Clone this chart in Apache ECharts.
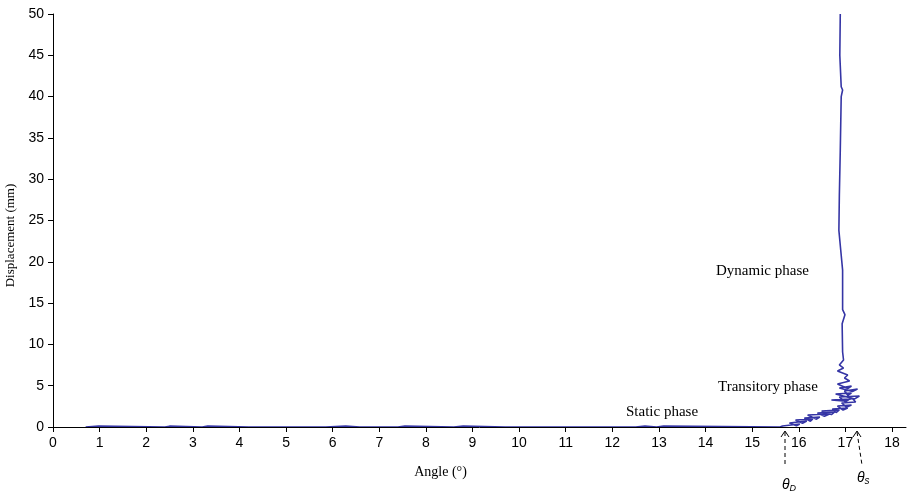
<!DOCTYPE html>
<html>
<head>
<meta charset="utf-8">
<script src="https://cdn.jsdelivr.net/npm/echarts@6/dist/echarts.min.js"></script>
<style>html,body{margin:0;padding:0;background:#fff}#chart{width:913px;height:494px}</style>
</head>
<body>
<div id="chart"></div>
<script>
// x tick labels (degrees)
var angleTicks = [0, 1, 2, 3, 4, 5, 6, 7, 8, 9, 10, 11, 12, 13, 14, 15, 16, 17, 18];

// static phase: displacement stays ~0 with tiny blips
var staticPhase = [
  [0.7,0],[0.72,0.12],[0.98,0.12],[1.0,0],[2.4,0],[2.42,0.1],[2.5,0.1],[2.52,0],
  [3.2,0],[3.22,0.12],[3.32,0.12],[3.34,0],[4.2,0],[4.22,0.15],[4.25,0],
  [5.85,0],[5.87,0.12],[6.28,0.12],[6.3,0],[6.58,0],[6.6,0.1],[6.62,0],
  [7.0,0],[7.03,0.2],[7.06,0],[7.4,0],[7.42,0.12],[7.55,0.12],[7.57,0],
  [8.6,0],[8.62,0.12],[8.8,0.12],[8.82,0],[9.7,0],[9.72,0.15],[9.75,0],
  [11.6,0],[11.62,0.1],[11.65,0],[12.5,0],[12.52,0.12],[12.7,0.12],[12.72,0],
  [12.95,0],[12.97,0.12],[13.1,0.12],[13.12,0],[15.6,0]
];

// transitory phase: scribbly climb between ~15.6 and ~17.3 deg
var transitoryPhase = [
  [15.65,0.12],[16.02,0.36],[15.95,0.15],[15.80,0.48],[16.17,0.73],[16.08,0.45],
  [15.93,0.85],[16.30,0.97],[16.25,0.70],[16.12,1.09],[16.45,1.21],[16.38,0.95],
  [16.19,1.45],[16.66,1.57],[16.55,1.30],[16.40,1.69],[16.77,1.82],[16.70,1.50],
  [16.49,1.94],[16.87,2.06],[16.80,1.75],[16.72,2.18],[17.05,2.30],[16.95,2.05],
  [16.83,2.54],[17.13,2.66],[17.02,2.40],[16.92,2.91],[17.22,3.03],[17.15,3.45],
  [16.95,3.15],[16.70,3.27],[17.09,3.39],[17.00,3.05],[16.87,3.63],[17.30,3.75],
  [17.20,3.40],[16.79,4.00],[17.13,4.12],[17.05,3.85],[16.98,4.36],[17.26,4.60],
  [17.15,4.30],[16.87,4.72],[17.13,4.96],[17.05,4.65],[16.83,5.21],[17.09,5.57],
  [16.98,5.93],[17.05,6.30],[16.83,6.78],[16.96,7.14],[16.87,7.51]
];

// dynamic phase: near-vertical rise at ~16.9 deg
var dynamicPhase = [
  [16.96,8.11],[16.94,9.08],[16.93,12.5],[16.99,13.6],[16.94,14.2],
  [16.94,19.0],[16.90,21.4],[16.86,23.8],[16.87,28.0],[16.89,33.5],[16.91,40.0],
  [16.94,40.8],[16.91,41.2],[16.88,45.0],[16.89,50.0]
];

var curve = staticPhase.concat(transitoryPhase, dynamicPhase);

var chart = echarts.init(document.getElementById('chart'));
var option = {
  backgroundColor: '#fff',
  animation: false,
  grid: { left: 53, right: 7, top: 14, bottom: 67, outerBoundsMode: 'none' },
  xAxis: {
    type: 'value',
    min: 0,
    max: 18.3,
    z: 5,
    name: 'Angle (°)',
    nameLocation: 'middle',
    nameGap: 38,
    nameTextStyle: { fontFamily: 'Liberation Serif', fontSize: 14, color: '#000', padding: [0, 78, 0, 0] },
    axisLine: { lineStyle: { color: '#000', width: 1 } },
    axisTick: { show: true, length: 5, lineStyle: { color: '#000' }, customValues: angleTicks },
    axisLabel: { customValues: angleTicks, color: '#000', fontFamily: 'Liberation Sans', fontSize: 14, margin: 9 },
    splitLine: { show: false }
  },
  yAxis: {
    type: 'value',
    min: 0,
    max: 50,
    interval: 5,
    name: 'Displacement (mm)',
    nameLocation: 'middle',
    nameGap: 32,
    nameTextStyle: { fontFamily: 'Liberation Serif', fontSize: 13, color: '#000', padding: [0, 30, 0, 0] },
    axisLine: { show: true, lineStyle: { color: '#000', width: 1 } },
    axisTick: { show: true, length: 5, lineStyle: { color: '#000' } },
    axisLabel: { color: '#000', fontFamily: 'Liberation Sans', fontSize: 14, margin: 9 },
    splitLine: { show: false }
  },
  series: [{
    type: 'line',
    data: curve,
    showSymbol: false,
    z: 2,
    lineStyle: { color: '#3535a5', width: 1.6 }
  }],
  graphic: [
    { type: 'text', left: 716, top: 264, style: { text: 'Dynamic phase', font: '15px "Liberation Serif"', fill: '#000' } },
    { type: 'text', left: 718, top: 380, style: { text: 'Transitory phase', font: '15px "Liberation Serif"', fill: '#000' } },
    { type: 'text', left: 626, top: 405, style: { text: 'Static phase', font: '15px "Liberation Serif"', fill: '#000' } },
    // theta_D arrow
    { type: 'line', shape: { x1: 785, y1: 432, x2: 785, y2: 465 }, style: { stroke: '#000', lineWidth: 1, lineDash: [4, 3] } },
    { type: 'polyline', shape: { points: [[781, 437], [785, 431], [789, 437]] }, style: { stroke: '#000', lineWidth: 1, fill: null } },
    // theta_s arrow
    { type: 'line', shape: { x1: 857, y1: 432, x2: 862, y2: 465 }, style: { stroke: '#000', lineWidth: 1, lineDash: [4, 3] } },
    { type: 'polyline', shape: { points: [[853, 437], [857, 431], [861, 437]] }, style: { stroke: '#000', lineWidth: 1, fill: null } },
    { type: 'text', left: 782, top: 478, style: {
        text: '{t|θ}{s|D}',
        rich: { t: { font: 'italic 14px "Liberation Sans"', fill: '#000' }, s: { font: 'italic 9px "Liberation Sans"', fill: '#000', padding: [7, 0, 0, 0] } }
    } },
    { type: 'text', left: 857, top: 471, style: {
        text: '{t|θ}{s|s}',
        rich: { t: { font: 'italic 14px "Liberation Sans"', fill: '#000' }, s: { font: 'italic 10px "Liberation Sans"', fill: '#000', padding: [7, 0, 0, 0] } }
    } }
  ]
};
chart.setOption(option);
</script>
</body>
</html>
